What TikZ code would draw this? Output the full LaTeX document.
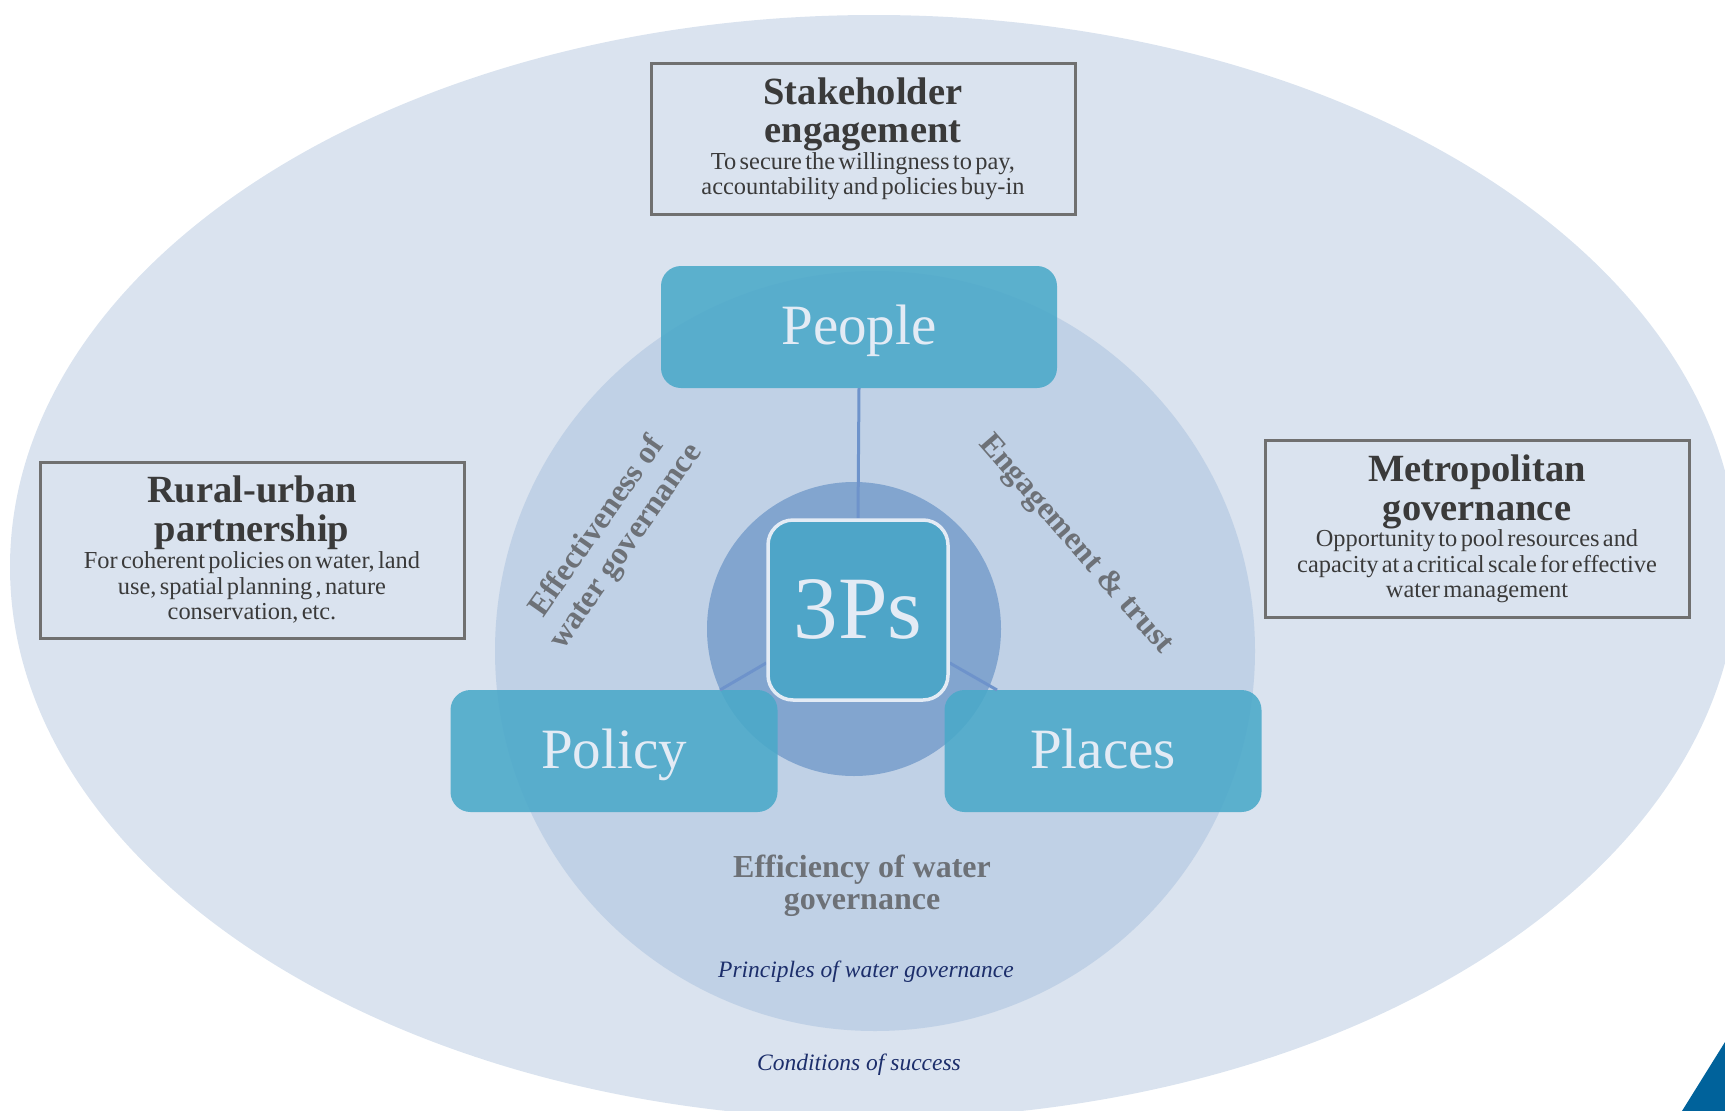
\documentclass[tikz,border=0pt]{standalone}
\usepackage{fontspec}
\setmainfont{Liberation Serif}
\usepackage{xcolor}
\usepackage{tikz}

\definecolor{outerblue}{HTML}{DAE3EF}
\definecolor{midblue}{HTML}{C0D1E6}
\definecolor{innerblue}{HTML}{82A5CF}
\definecolor{pteal}{HTML}{4AA9C9}
\definecolor{centerteal}{HTML}{4EA5C8}
\definecolor{linkblue}{HTML}{6E93CB}
\definecolor{boxgray}{HTML}{707070}
\definecolor{titlegray}{HTML}{3A3A3A}
\definecolor{labelgray}{HTML}{6D7177}
\definecolor{navy}{HTML}{1C2E6B}
\definecolor{cornerblue}{HTML}{00629B}
\definecolor{boxtext}{HTML}{E3EBF5}

\begin{document}
\begin{tikzpicture}[x=1pt,y=-1pt,
  pbox/.style={fill=pteal, fill opacity=0.88, text opacity=1, rounded corners=20pt,
    minimum height=122pt, text=boxtext, text height=40pt, text depth=4.8pt,
    font=\fontsize{57}{60}\selectfont},
  infobox/.style={draw=boxgray, line width=3pt, text width=400pt, align=center,
    inner sep=0pt, minimum width=424pt, text=titlegray},
  link/.style={draw=linkblue, line width=3pt},
  glabel/.style={align=center, text=labelgray, font=\fontsize{32}{32}\selectfont\bfseries},
  ilabel/.style={text=navy, font=\fontsize{23.5}{26}\selectfont\itshape}]
\useasboundingbox (0,0) rectangle (1725,1111);
\clip (0,0) rectangle (1725,1111);
% background rings
\fill[outerblue] (874,567) ellipse [x radius=864pt, y radius=552pt];
\fill[midblue] (875,651) circle (380pt);
\fill[innerblue] (854,629) circle (147pt);
\fill[cornerblue] (1725,1042) -- (1682,1111) -- (1725,1111) -- cycle;
% the three Ps
\node[pbox, minimum width=396pt] (people) at (859,327) {People};
\node[pbox, minimum width=327pt] (policy) at (614,751) {Policy};
\node[pbox, minimum width=317pt] (places) at (1103,751) {Places};
\node[minimum width=183pt, minimum height=183pt] (tps) at (858,610) {};
\coordinate (lpol) at (720,690);
\coordinate (lpla) at (997,690);
\draw[link] (people.south) -- (tps.north);
\draw[link] (tps.210) -- (lpol);
\draw[link] (tps.330) -- (lpla);
\node[fill=centerteal, draw=boxtext, line width=3.5pt, rounded corners=25pt,
  minimum width=180pt, minimum height=180pt, text=boxtext,
  text height=60pt, text depth=2.8pt,
  font=\fontsize{89}{92}\selectfont] at (tps) {3Ps};
% conditions of success
\node[infobox, minimum height=151pt] (stake) at (863,139)
  {{\fontsize{38.5}{38.5}\selectfont\bfseries Stakeholder\\engagement\par}\vspace{1pt}
   {\fontsize{24.4}{25.5}\selectfont To secure the willingness to pay,\\accountability and policies buy-in\par}};
\node[infobox, minimum height=176pt] (rural) at (252,550)
  {{\fontsize{38.5}{38.5}\selectfont\bfseries Rural-urban\\partnership\par}\vspace{2pt}
   {\fontsize{24.4}{25.5}\selectfont For coherent policies on water, land\\use, spatial planning , nature\\conservation, etc.\par}};
\node[infobox, minimum height=177pt] (metro) at (1477,529)
  {{\fontsize{38.5}{38.5}\selectfont\bfseries Metropolitan\\governance\par}\vspace{1pt}
   {\fontsize{24.4}{25.5}\selectfont Opportunity to pool resources and\\capacity at a critical scale for effective\\water management\par}};
% principles
\node[glabel, rotate=55, font=\fontsize{32}{35}\selectfont\bfseries] (effect) at (612,537) {Effectiveness of\\water governance};
\node[glabel, rotate=-49] (engage) at (1075,545) {Engagement \& trust};
\node[glabel] (effic) at (862,886) {Efficiency of water\\governance};
\node[ilabel] (princ) at (866,972) {Principles of water governance};
\node[ilabel] (cond) at (859,1065) {Conditions of success};
\end{tikzpicture}
\end{document}
